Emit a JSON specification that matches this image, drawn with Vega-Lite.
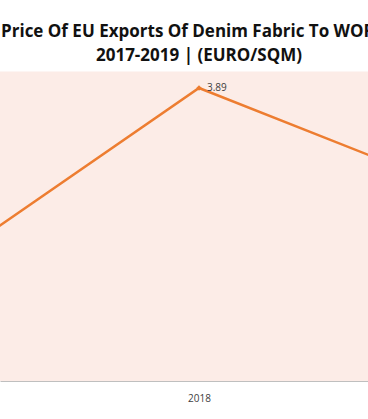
{
  "$schema": "https://vega.github.io/schema/vega-lite/v6.json",
  "width": 368,
  "height": 309.5,
  "autosize": "none",
  "padding": {"top": 71.5, "left": 0, "right": 0, "bottom": 38},
  "background": "white",
  "config": {"view": {"fill": "#FCECE7", "stroke": null}},
  "title": {
    "text": ["Price Of EU Exports Of Denim Fabric To WORLD", "2017-2019 | (EURO/SQM)"],
    "font": "Open Sans",
    "fontSize": 17,
    "fontWeight": "bold",
    "color": "#111111",
    "anchor": "middle",
    "dx": 15,
    "lineHeight": 24,
    "offset": 7
  },
  "data": {"values": [
    {"year": 2017, "price": 3.26},
    {"year": 2018, "price": 3.89},
    {"year": 2019, "price": 3.53}
  ]},
  "encoding": {
    "x": {"field": "year", "type": "quantitative",
      "scale": {"domain": [2017.3367, 2018.5633], "nice": false, "zero": false},
      "axis": {"title": null, "values": [2018], "format": "d", "ticks": false, "grid": false,
        "domainColor": "#BFBFBF", "domainWidth": 1, "labelColor": "#404040", "labelFont": "Open Sans",
        "labelFontSize": 10, "labelPadding": 12}},
    "y": {"field": "price", "type": "quantitative",
      "scale": {"domain": [3, 3.94], "nice": false, "zero": false},
      "axis": null}
  },
  "layer": [
    {"mark": {"type": "line", "color": "#ED7D31", "strokeWidth": 2.5, "clip": true}},
    {"mark": {"type": "point", "shape": "diamond", "size": 30, "filled": true, "opacity": 1, "color": "#ED7D31", "clip": true}},
    {"transform": [{"filter": "datum.year == 2018"}],
     "mark": {"type": "text", "align": "left", "baseline": "middle", "dx": 8, "font": "Open Sans", "fontSize": 10, "color": "#404040", "clip": true},
     "encoding": {"text": {"field": "price", "type": "quantitative", "format": ".2f"}}}
  ]
}
